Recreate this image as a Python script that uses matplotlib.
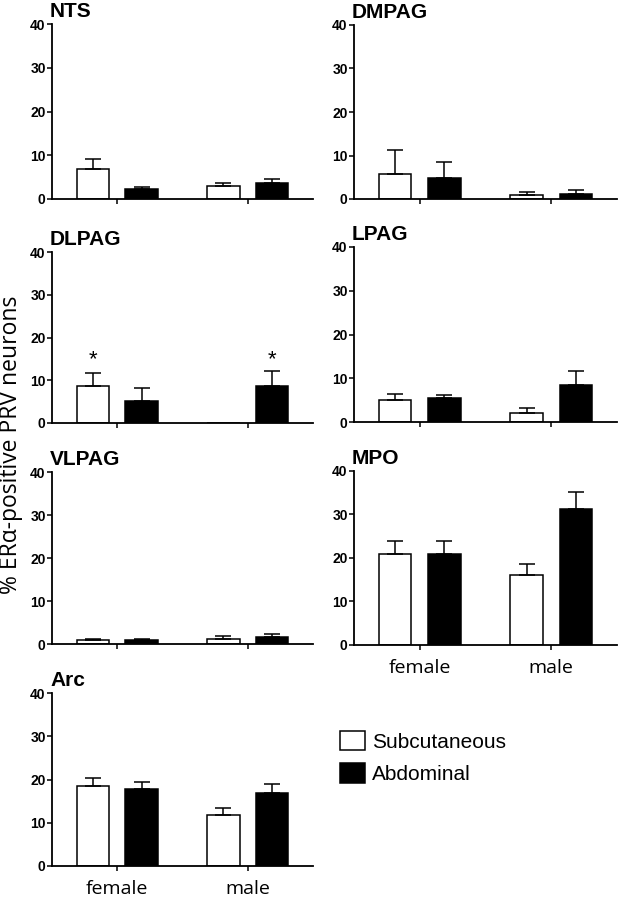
import matplotlib
matplotlib.use("Agg")
import matplotlib.pyplot as plt
from matplotlib.patches import Patch
import numpy as np

# ---- data ----
groups = ["female", "male"]
series = ["Subcutaneous", "Abdominal"]
regions = ["NTS", "DMPAG", "DLPAG", "LPAG", "VLPAG", "MPO", "Arc"]

nts_sub, nts_sub_sem = [6.9, 3.0], [2.3, 0.6]
nts_abd, nts_abd_sem = [2.4, 3.6], [0.4, 1.0]
dmpag_sub, dmpag_sub_sem = [5.7, 0.85], [5.6, 0.75]
dmpag_abd, dmpag_abd_sem = [4.8, 1.1], [3.6, 0.9]
dlpag_sub, dlpag_sub_sem = [8.7, 0.0], [2.9, 0.0]
dlpag_abd, dlpag_abd_sem = [5.2, 8.7], [2.9, 3.35]
lpag_sub, lpag_sub_sem = [5.0, 2.1], [1.5, 1.2]
lpag_abd, lpag_abd_sem = [5.5, 8.4], [0.8, 3.3]
vlpag_sub, vlpag_sub_sem = [0.85, 1.1], [0.25, 0.85]
vlpag_abd, vlpag_abd_sem = [1.0, 1.7], [0.25, 0.6]
mpo_sub, mpo_sub_sem = [20.9, 16.0], [3.0, 2.6]
mpo_abd, mpo_abd_sem = [20.8, 31.1], [3.1, 4.1]
arc_sub, arc_sub_sem = [18.6, 11.8], [1.8, 1.6]
arc_abd, arc_abd_sem = [17.9, 16.9], [1.6, 2.0]

# significance marks: (region, series index, group index)
sig_marks = [("DLPAG", 0, 0), ("DLPAG", 1, 1)]
sig_y = 14.9

yticks = [0, 10, 20, 30, 40]
ylabel = "% ERα-positive PRV neurons"

panel_data = {
    "NTS": (nts_sub, nts_sub_sem, nts_abd, nts_abd_sem),
    "DMPAG": (dmpag_sub, dmpag_sub_sem, dmpag_abd, dmpag_abd_sem),
    "DLPAG": (dlpag_sub, dlpag_sub_sem, dlpag_abd, dlpag_abd_sem),
    "LPAG": (lpag_sub, lpag_sub_sem, lpag_abd, lpag_abd_sem),
    "VLPAG": (vlpag_sub, vlpag_sub_sem, vlpag_abd, vlpag_abd_sem),
    "MPO": (mpo_sub, mpo_sub_sem, mpo_abd, mpo_abd_sem),
    "Arc": (arc_sub, arc_sub_sem, arc_abd, arc_abd_sem),
}

# ---- layout (pixels) ----
W, H = 619, 899
fig = plt.figure(figsize=(W / 100, H / 100), dpi=100)

# (left px, right px, top px (y=40), bottom px (y=0))
layout = {
    "NTS": (52, 313, 24, 199),
    "DMPAG": (354, 617, 25, 199),
    "DLPAG": (52, 313, 252.3, 422.7),
    "LPAG": (354, 617, 247, 422.3),
    "VLPAG": (52, 313, 472.3, 644),
    "MPO": (354, 617, 470.7, 645),
    "Arc": (52, 313, 693.3, 865.7),
}
show_xlabels = {"MPO", "Arc"}

title_font = dict(family="Liberation Sans", weight="bold", size=15)
tick_font = dict(family="Liberation Sans", weight="bold", size=10)

x = np.arange(len(groups))
off = 0.187
bw = 0.248

for name in regions:
    l, r, t, b = layout[name]
    ax = fig.add_axes([l / W, 1 - b / H, (r - l) / W, (b - t) / H])
    sub, sub_sem, abd, abd_sem = panel_data[name]
    for k, (vals, sems, fc) in enumerate([(sub, sub_sem, "white"), (abd, abd_sem, "black")]):
        xs = x + (k * 2 - 1) * off
        ax.bar(xs, vals, width=bw, color=fc, edgecolor="black", linewidth=1.1, zorder=2)
        vals_a = np.array(vals, float)
        sems_a = np.array(sems, float)
        m = vals_a > 0
        ax.errorbar(xs[m], vals_a[m], yerr=[np.zeros(m.sum()), sems_a[m]], fmt="none",
                    ecolor="black", elinewidth=1.1, capsize=6, capthick=1.1, zorder=3)
    for (rg, si, gi) in sig_marks:
        if rg == name:
            ax.text(x[gi] + (si * 2 - 1) * off, sig_y, "*", ha="center", va="center",
                    family="Liberation Sans", size=16)
    ax.set_xlim(-0.5, 1.5)
    ax.set_ylim(0, 40)
    ax.set_yticks(yticks)
    ax.set_yticklabels([str(v) for v in yticks], fontdict=tick_font)
    ax.set_xticks(x)
    if name in show_xlabels:
        ax.set_xticklabels(groups, family="Open Sans", size=14)
    else:
        ax.set_xticklabels([])
    for s in ["top", "right"]:
        ax.spines[s].set_visible(False)
    for s in ["left", "bottom"]:
        ax.spines[s].set_linewidth(1.3)
    ax.tick_params(axis="both", direction="out", length=3.5, width=1.1, pad=1)
    ax.tick_params(axis="x", pad=6.5)
    fig.text((l - 2) / W, 1 - (t - 7) / H, name, ha="left", va="baseline", **title_font)

fig.text(11 / W, 1 - 445 / H, ylabel, rotation=90, ha="center", va="center",
         family="Open Sans", size=16.5)

handles = [Patch(facecolor="white", edgecolor="black", linewidth=1.1),
           Patch(facecolor="black", edgecolor="black", linewidth=1.1)]
fig.legend(handles, series, loc="upper left", bbox_to_anchor=(340 / W, 1 - 731 / H),
           frameon=False, prop=dict(family="Liberation Sans", size=15),
           handlelength=1.2, handleheight=1.05, handletextpad=0.35,
           labelspacing=0.55, borderpad=0, borderaxespad=0)

fig.savefig("out.png", dpi=100)
